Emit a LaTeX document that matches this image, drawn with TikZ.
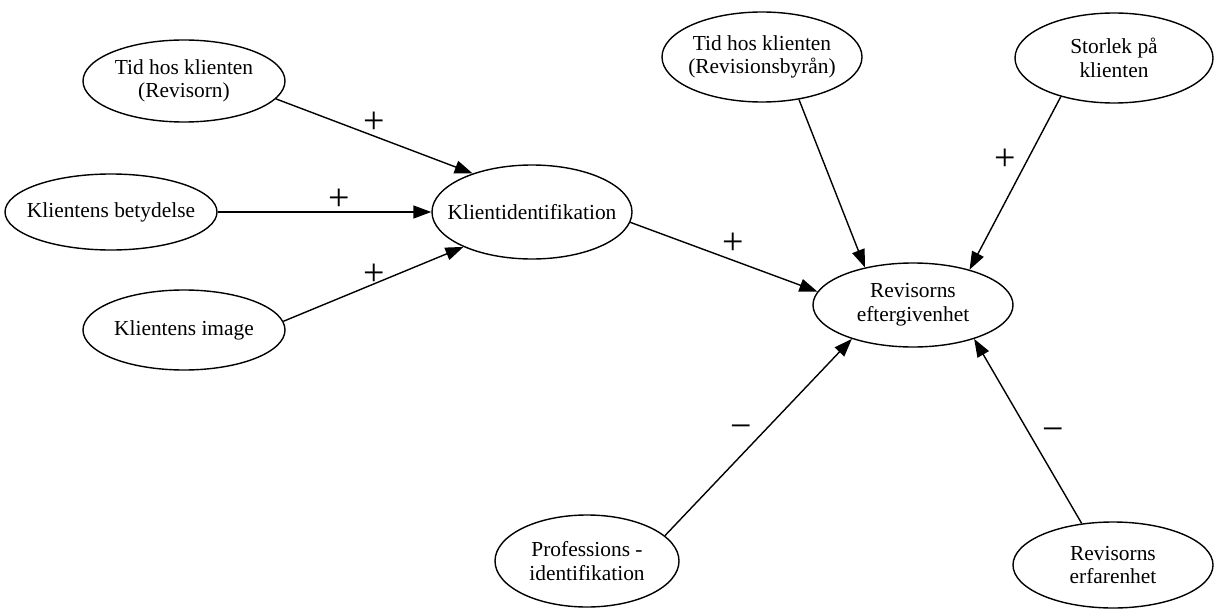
\documentclass[tikz,border=0pt]{standalone}
\usepackage{fontspec}
\setmainfont{Liberation Serif}
\usetikzlibrary{shapes.geometric,arrows.meta}
\tikzset{
  faktor/.style={draw,ellipse,line width=0.7pt,inner xsep=-7pt,inner ysep=0pt,align=center,
    font=\fontsize{10.7}{11.8}\selectfont},
  tecken/.style={inner sep=0pt,font=\fontsize{19}{19}\selectfont},
  pil/.style={line width=0.7pt,-{Triangle[length=9pt,width=6.5pt]}}
}
\begin{document}
\begin{tikzpicture}[x=0.5pt,y=-0.5pt]
			\useasboundingbox (0,0) rectangle (1215,610);
			\node[faktor,minimum width=101pt,minimum height=41pt] (tidrev) at (184,81) {Tid hos klienten\\(Revisorn)};
			\node[faktor,minimum width=106pt,minimum height=38pt] (betyd) at (111,212) {Klientens betydelse};
			\node[faktor,minimum width=101pt,minimum height=40pt] (image) at (184,330) {Klientens image};
			\node[faktor,minimum width=100pt,minimum height=47pt] (klientid) at (532,212) {Klientidentifikation};
			\node[faktor,minimum width=100pt,minimum height=42pt] (eftergiv) at (913,305) {Revisorns\\eftergivenhet};
			\node[faktor,minimum width=100pt,minimum height=45pt] (tidbyra) at (762,57) {Tid hos klienten\\(Revisionsbyrån)};
			\node[faktor,minimum width=99pt,minimum height=45pt] (storlek) at (1114,58) {Storlek på\\klienten};
			\node[faktor,minimum width=92pt,minimum height=46pt] (profid) at (587,561) {Professions -\\identifikation};
			\node[faktor,minimum width=100pt,minimum height=43pt] (erfar) at (1113,565) {Revisorns\\erfarenhet};
			% pilar
			\draw[pil] (tidrev.349) -- (klientid.147);
			\draw[pil] (betyd.east) -- (klientid.west);
			\draw[pil] (image.5) -- (klientid.207);
			\draw[pil] (klientid.354) -- (eftergiv.172);
			\draw[pil] (tidbyra.311) -- (eftergiv.142);
			\draw[pil] (storlek.216) -- (eftergiv.32);
			\draw[pil] (profid.18) -- (eftergiv.209);
			\draw[pil] (erfar.127) -- (eftergiv.331);
			% tecken
			\node[tecken] (p1) at (374,123) {+};
			\node[tecken] (p2) at (339,200) {+};
			\node[tecken] (p3) at (374,275) {+};
			\node[tecken] (p4) at (733,244) {+};
			\node[tecken] (p5) at (1005,160) {+};
			\node[tecken] (m1) at (741,432) {−};
			\node[tecken] (m2) at (1053,435) {−};
		\end{tikzpicture}
\end{document}
